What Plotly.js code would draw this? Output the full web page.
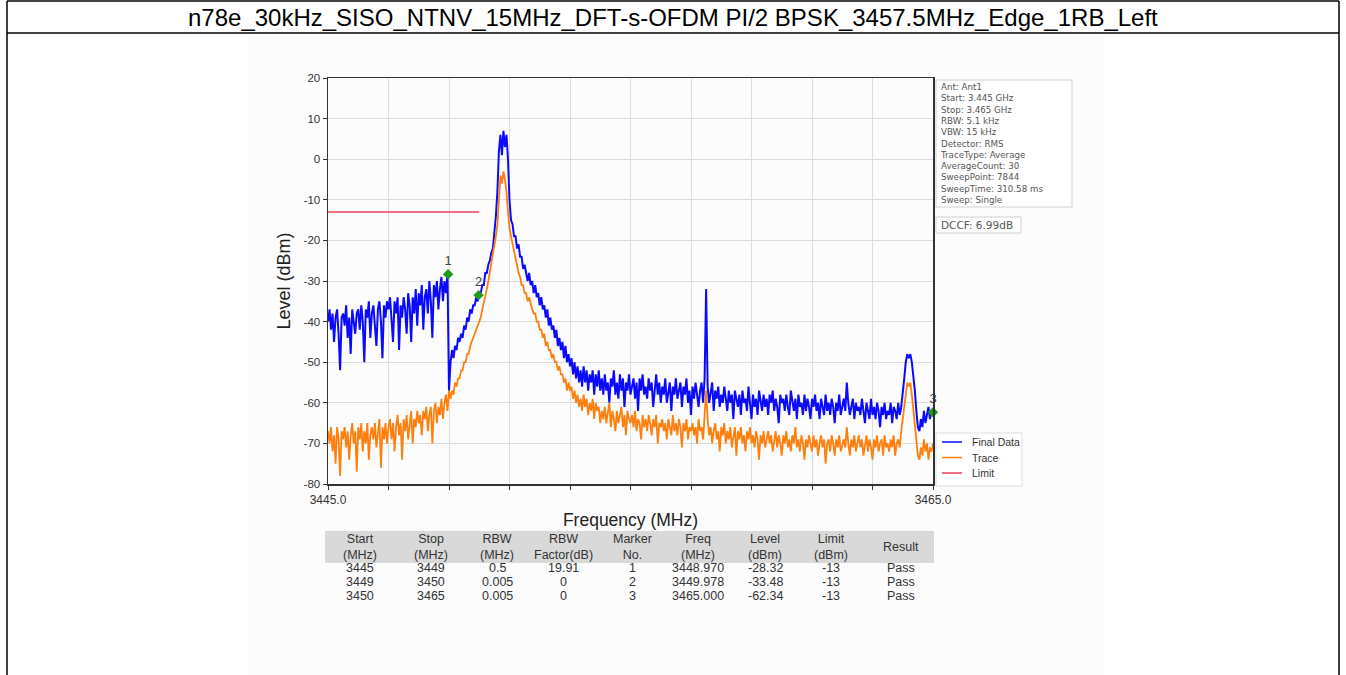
<!DOCTYPE html>
<html><head><meta charset="utf-8">
<script src="https://cdn.plot.ly/plotly-3.0.1.min.js"></script>
<style>html,body{margin:0;padding:0;background:#fff}#chart{width:1346px;height:675px}</style>
</head><body><div id="chart"></div>
<script>
const titleText = "n78e_30kHz_SISO_NTNV_15MHz_DFT-s-OFDM PI/2 BPSK_3457.5MHz_Edge_1RB_Left";

// sweep grid: 3445.00 MHz .. 3465.00 MHz, 0.05 MHz per sample
const freqStart = 3445, freqStep = 0.05;

// Final Data (blue), dBm
const finalData = [
-40,-37,-42,-38,-45,-39,-37,-43,-52,-39,
-38,-41,-36,-44,-39,-48,-37,-40,-43,-38,
-37,-42,-36,-40,-50,-37,-39,-35,-44,-38,
-36,-41,-46,-37,-35,-40,-49,-36,-39,-35,
-37,-34,-40,-45,-35,-38,-34,-47,-36,-39,
-34,-37,-43,-33,-36,-45,-34,-38,-32,-41,
-33,-36,-31,-42,-34,-32,-38,-30,-35,-44,
-31,-34,-30,-37,-32,-29,-35,-30,-33,-28,
-57,
-50,-47,-49,-46,-47,-44,-45,-43,-44,-41,
-42,-39,-40,-37,-38,-36,-36,-34,-35,-33,
-33,-31,-31,-28,-28,-26,-25,-23,-22,-18,
-14,-8,2,6,1,7,3,6,0,-10,
-15,-16,-19,-19,-22,-21,-24,-24,-27,-26,
-28,-30,-28,-31,-30,-33,-31,-34,-33,-36,
-34,-37,-36,-39,-37,-41,-39,-42,-41,-44,
-42,-46,-44,-47,-45,-49,-46,-50,-48,-51,
-49,-53,-50,-54,-51,-55,-52,-56,-51,-55,
-52,-57,-53,-55,-52,-58,-53,-56,-52,-57,
-54,-58,-53,-57,-55,-60,-54,-56,-52,-58,
-55,-59,-53,-57,-54,-61,-55,-57,-53,-58,
-56,-54,-59,-55,-62,-54,-57,-53,-58,-56,
-59,-54,-57,-55,-61,-56,-53,-58,-55,-60,
-56,-58,-54,-60,-57,-55,-62,-56,-58,-54,
-59,-57,-55,-61,-56,-58,-54,-60,-57,-63,
-56,-59,-55,-58,-61,-57,-55,-60,-54,-32,
-56,-60,-58,-55,-62,-57,-59,-56,-61,-58,
-60,-56,-59,-62,-57,-60,-58,-64,-57,-59,
-61,-58,-63,-57,-60,-59,-62,-56,-60,-64,
-58,-61,-59,-63,-57,-60,-62,-58,-61,-59,
-63,-58,-60,-57,-62,-59,-61,-65,-58,-60,
-59,-62,-58,-61,-63,-57,-60,-62,-59,-64,
-58,-61,-60,-63,-58,-62,-59,-61,-64,-59,
-61,-58,-62,-60,-64,-59,-61,-63,-58,-62,
-60,-63,-59,-61,-65,-60,-62,-58,-63,-61,
-59,-62,-55,-60,-63,-61,-59,-64,-60,-62,
-61,-63,-59,-62,-65,-60,-62,-64,-59,-63,
-61,-64,-60,-62,-66,-61,-63,-60,-64,-62,
-63,-60,-65,-61,-62,-64,-60,-63,-61,-58,
-54,-50,-48,-49,-48,-50,-53,-57,-62,-66,
-67,-64,-66,-62,-65,-63,-61,-64,-62,-62.34
];

// Trace (orange), dBm
const traceData = [
-67,-70,-66,-72,-68,-75,-66,-69,-78,-67,
-69,-66,-71,-67,-74,-68,-65,-70,-67,-77,
-66,-69,-65,-72,-67,-70,-65,-74,-68,-66,
-69,-65,-71,-67,-64,-76,-66,-69,-65,-70,
-66,-64,-69,-65,-72,-66,-63,-68,-65,-74,
-64,-67,-63,-69,-65,-62,-70,-64,-66,-62,
-65,-63,-68,-62,-64,-61,-67,-63,-61,-70,
-62,-60,-65,-61,-63,-59,-64,-60,-58,-62,
-57,
-59,-57,-58,-55,-56,-54,-54,-52,-52,-50,
-50,-48,-48,-46,-45,-44,-43,-42,-41,-40,
-39,-37,-35,-34,-32,-30,-28,-26,-24,-21,
-19,-16,-9,-4,-6,-3,-5,-8,-13,-17,
-19,-21,-23,-25,-26,-28,-29,-31,-31,-33,
-33,-35,-34,-36,-37,-38,-38,-40,-40,-42,
-42,-44,-43,-46,-45,-47,-47,-49,-48,-50,
-50,-52,-51,-53,-53,-55,-54,-57,-55,-57,
-56,-59,-57,-60,-58,-61,-59,-62,-58,-61,
-59,-63,-60,-62,-59,-64,-60,-62,-61,-65,
-62,-64,-61,-65,-63,-60,-66,-62,-64,-67,
-62,-65,-63,-61,-66,-63,-68,-62,-64,-65,
-63,-66,-62,-67,-64,-65,-69,-63,-66,-64,
-67,-63,-65,-68,-64,-66,-63,-70,-65,-66,
-64,-67,-65,-69,-64,-66,-68,-63,-67,-65,
-68,-64,-66,-71,-65,-67,-64,-69,-66,-67,
-65,-68,-66,-70,-64,-67,-66,-69,-63,-57,
-64,-68,-66,-70,-67,-65,-69,-67,-72,-66,
-68,-65,-70,-67,-69,-66,-71,-68,-66,-73,
-67,-69,-66,-70,-68,-72,-67,-69,-66,-70,
-68,-71,-67,-69,-74,-68,-70,-67,-71,-69,
-67,-70,-68,-72,-69,-67,-71,-68,-70,-73,
-68,-70,-67,-71,-69,-72,-68,-70,-66,-71,
-69,-72,-68,-70,-74,-69,-71,-68,-70,-72,
-68,-71,-69,-73,-70,-68,-71,-69,-75,-70,
-69,-72,-68,-70,-73,-69,-71,-68,-72,-70,
-69,-71,-66,-70,-73,-69,-71,-68,-72,-70,
-68,-71,-69,-73,-70,-68,-72,-69,-71,-74,
-69,-71,-68,-72,-70,-69,-73,-68,-71,-70,
-72,-69,-71,-68,-73,-70,-69,-71,-67,-64,
-60,-57,-55,-56,-55,-58,-62,-66,-70,-73,
-74,-71,-73,-69,-72,-70,-74,-71,-72,-70
];

// Limit line
const limitFreq = [3445, 3450];
const limitLevel = [-13, -13];

// Markers
const markerNo = ['1', '2', '3'];
const markerFreq = [3448.970, 3449.978, 3465.000];
const markerLevel = [-28.32, -33.48, -62.34];

// Axis ticks
const yTickVals = [-80, -70, -60, -50, -40, -30, -20, -10, 0, 10, 20];
const yTickText = ['-80', '-70', '-60', '-50', '-40', '-30', '-20', '-10', '0', '10', '20'];
const xTickVals = [3445, 3447, 3449, 3451, 3453, 3455, 3457, 3459, 3461, 3463, 3465];
const xTickText = ['3445.0', '', '', '', '', '', '', '', '', '', '3465.0'];

// Info box
const infoLines = ['Ant: Ant1', 'Start: 3.445 GHz', 'Stop: 3.465 GHz', 'RBW: 5.1 kHz', 'VBW: 15 kHz',
  'Detector: RMS', 'TraceType: Average', 'AverageCount: 30', 'SweepPoint: 7844',
  'SweepTime: 310.58 ms', 'Sweep: Single'];
const dccfText = 'DCCF: 6.99dB';

// Result table
const tblHeader = ['Start<br>(MHz)', 'Stop<br>(MHz)', 'RBW<br>(MHz)', 'RBW<br>Factor(dB)', 'Marker<br>No.',
  'Freq<br>(MHz)', 'Level<br>(dBm)', 'Limit<br>(dBm)', 'Result'];
const tblStart = ['3445', '3449', '3450'];
const tblStop = ['3449', '3450', '3465'];
const tblRBW = ['0.5', '0.005', '0.005'];
const tblFactor = ['19.91', '0', '0'];
const tblMarker = ['1', '2', '3'];
const tblFreq = ['3448.970', '3449.978', '3465.000'];
const tblLevel = ['-28.32', '-33.48', '-62.34'];
const tblLimit = ['-13', '-13', '-13'];
const tblResult = ['Pass', 'Pass', 'Pass'];

// ---------- drawing ----------
const W = 1346, H = 675;
const X = px => px / W;
const Y = py => 1 - py / H;
const FONT = 'Liberation Sans, Arial, sans-serif';
const INFOFONT = 'DejaVu Sans, Liberation Sans, sans-serif';

const freq = finalData.map((_, i) => +(freqStart + freqStep * i).toFixed(2));

const series = [
  {name: 'Final Data', x: freq, y: finalData, color: '#0a0aff', width: 2},
  {name: 'Trace', x: freq, y: traceData, color: '#ff7f0e', width: 1.8},
  {name: 'Limit', x: limitFreq, y: limitLevel, color: '#f2405e', width: 1.5}
];

const traces = series.map(s => ({type: 'scatter', mode: 'lines', name: s.name, x: s.x, y: s.y,
  line: {color: s.color, width: s.width}, showlegend: false}));
traces.push({type: 'scatter', mode: 'markers+text', name: 'Markers', showlegend: false, cliponaxis: false,
  x: markerFreq, y: markerLevel, text: markerNo, textposition: 'top center',
  textfont: {size: 13, color: '#444', family: FONT},
  marker: {symbol: 'diamond', size: 8, color: '#1e9a1e'}});

const shapes = [
  {type: 'rect', xref: 'paper', yref: 'paper', x0: X(247), x1: X(1105), y0: Y(675), y1: Y(36),
   fillcolor: '#fcfcfc', line: {width: 0}, layer: 'below'},
  {type: 'line', xref: 'paper', yref: 'paper', x0: X(7), x1: X(1339), y0: Y(1), y1: Y(1), line: {color: '#000', width: 1.5}},
  {type: 'line', xref: 'paper', yref: 'paper', x0: X(7), x1: X(1339), y0: Y(33), y1: Y(33), line: {color: '#000', width: 1.5}},
  {type: 'line', xref: 'paper', yref: 'paper', x0: X(7), x1: X(7), y0: Y(1), y1: Y(675), line: {color: '#000', width: 1.5}},
  {type: 'line', xref: 'paper', yref: 'paper', x0: X(1339), x1: X(1339), y0: Y(1), y1: Y(675), line: {color: '#000', width: 1.5}},
  // info box
  {type: 'rect', xref: 'paper', yref: 'paper', x0: X(936), x1: X(1072), y0: Y(207), y1: Y(80),
   fillcolor: '#fff', line: {color: '#d0d0d0', width: 1}},
  {type: 'rect', xref: 'paper', yref: 'paper', x0: X(936), x1: X(1021), y0: Y(233), y1: Y(217),
   fillcolor: '#fff', line: {color: '#d0d0d0', width: 1}},
  // legend box
  {type: 'rect', xref: 'paper', yref: 'paper', x0: X(936), x1: X(1022), y0: Y(486), y1: Y(433),
   fillcolor: '#fff', line: {color: '#dddddd', width: 1}},
  // table header band
  {type: 'rect', xref: 'paper', yref: 'paper', x0: X(325), x1: X(934), y0: Y(563), y1: Y(531),
   fillcolor: '#d9d9d9', line: {width: 0}, layer: 'below'}
];

// legend entries
series.forEach((s, k) => {
  const yy = 442 + 15.5 * k;
  shapes.push({type: 'line', xref: 'paper', yref: 'paper', x0: X(942), x1: X(962), y0: Y(yy), y1: Y(yy),
    line: {color: s.color, width: 1.5}});
});

const annotations = [
  {xref: 'paper', yref: 'paper', x: X(673), y: Y(18), text: titleText, showarrow: false,
   xanchor: 'center', yanchor: 'middle', font: {family: FONT, size: 24, color: '#000'}},
  {xref: 'paper', yref: 'paper', x: X(939), y: Y(225), text: dccfText, showarrow: false,
   xanchor: 'left', yanchor: 'middle', font: {family: INFOFONT, size: 10.5, color: '#555'}},
  {xref: 'paper', yref: 'paper', x: X(938), y: Y(80), text: infoLines.join('<br>'), showarrow: false,
   xanchor: 'left', yanchor: 'top', align: 'left', font: {family: INFOFONT, size: 8.7, color: '#555'}}
];
series.forEach((s, k) => annotations.push({
  xref: 'paper', yref: 'paper', x: X(970), y: Y(442 + 15.5 * k), text: s.name, showarrow: false,
  xanchor: 'left', yanchor: 'middle', font: {family: FONT, size: 10.5, color: '#333'}
}));

// table text
const colCenters = [360, 431, 497, 563, 632, 698, 765, 831, 901];
const tblCols = [tblStart, tblStop, tblRBW, tblFactor, tblMarker, tblFreq, tblLevel, tblLimit, tblResult];
tblHeader.forEach((h, c) => annotations.push({
  xref: 'paper', yref: 'paper', x: X(colCenters[c]), y: Y(547), text: h, showarrow: false,
  xanchor: 'center', yanchor: 'middle', font: {family: FONT, size: 12.5, color: '#333'}
}));
tblCols.forEach((col, c) => col.forEach((v, r) => annotations.push({
  xref: 'paper', yref: 'paper', x: X(colCenters[c]), y: Y(568 + 14 * r), text: v, showarrow: false,
  xanchor: 'center', yanchor: 'middle', font: {family: FONT, size: 12.5, color: '#333'}
})));

const layout = {
  width: W, height: H, margin: {l: 0, r: 0, t: 0, b: 0},
  paper_bgcolor: '#fff', plot_bgcolor: '#fff',
  font: {family: FONT, color: '#333'},
  showlegend: false,
  xaxis: {domain: [X(328), X(933)], range: [3445, 3465], tickvals: xTickVals, ticktext: xTickText,
    ticks: 'outside', ticklen: 4, tickcolor: '#333', showline: true, mirror: true, linecolor: '#333', linewidth: 1.5,
    showgrid: true, gridcolor: '#dcdcdc', zeroline: false, tickfont: {size: 12, color: '#333'},
    title: {text: 'Frequency (MHz)', font: {size: 17.5, color: '#222'}, standoff: 8}},
  yaxis: {domain: [Y(484), Y(78)], range: [-80, 20], tickvals: yTickVals, ticktext: yTickText,
    ticks: 'outside', ticklen: 4, tickcolor: '#333', showline: true, mirror: true, linecolor: '#333', linewidth: 1.5,
    showgrid: true, gridcolor: '#dcdcdc', zeroline: false, tickfont: {size: 11.5, color: '#333'},
    title: {text: 'Level (dBm)', font: {size: 18, color: '#222'}, standoff: 8}},
  shapes: shapes,
  annotations: annotations
};

Plotly.newPlot('chart', traces, layout, {displayModeBar: false, staticPlot: true});
</script>
</body></html>
